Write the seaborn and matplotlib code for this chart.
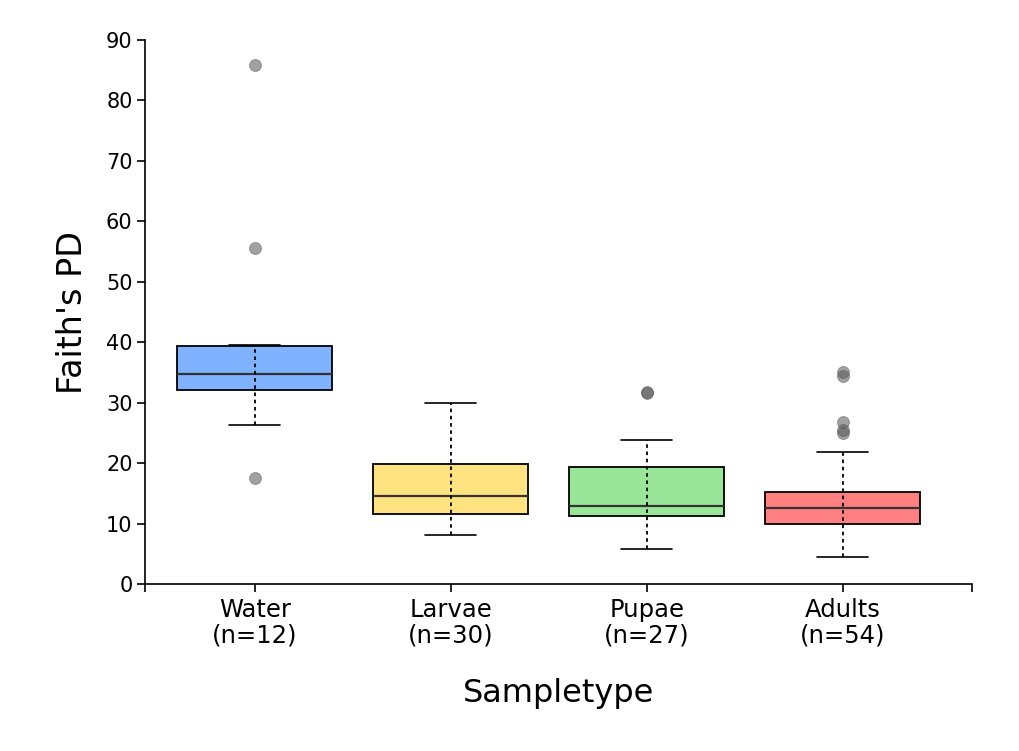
import numpy as np
import pandas as pd
import matplotlib
matplotlib.use("Agg")
import matplotlib.pyplot as plt
import seaborn as sns

# Box summary values
groups = ["Water", "Larvae", "Pupae", "Adults"]
counts = [12, 30, 27, 54]
whisker_low = [26.3, 8.1, 5.8, 4.5]
q1 = [32.1, 11.5, 11.3, 9.9]
median = [34.7, 14.6, 12.9, 12.6]
q3 = [39.4, 19.9, 19.3, 15.2]
whisker_high = [39.5, 30.0, 23.8, 21.9]
box_colors = ["#80B3FF", "#FFE380", "#99E699", "#FF8080"]

# outliers
outlier_group = ["Water", "Water", "Water", "Pupae", "Pupae",
                 "Adults", "Adults", "Adults", "Adults", "Adults"]
outlier_value = [85.9, 55.6, 17.5, 31.8, 31.6,
                 35.1, 34.4, 26.8, 25.4, 24.9]

sns.set_style("ticks")
plt.rcParams["font.family"] = ["DejaVu Sans"]
plt.rcParams["text.color"] = "black"
plt.rcParams["axes.labelcolor"] = "black"
plt.rcParams["xtick.color"] = "black"
plt.rcParams["ytick.color"] = "black"
plt.rcParams["axes.edgecolor"] = "black"

fig = plt.figure(figsize=(10.19, 7.51), dpi=100)
ax = fig.add_axes([145 / 1019, 1 - 584 / 751, (972 - 145) / 1019, (584 - 40) / 751])

stats = []
for i, g in enumerate(groups):
    stats.append(dict(label=g, whislo=whisker_low[i], q1=q1[i], med=median[i],
                      q3=q3[i], whishi=whisker_high[i], fliers=[]))

pos = np.arange(len(groups))
bp = ax.bxp(stats, positions=pos, widths=0.79, patch_artist=True,
            showfliers=False,
            boxprops=dict(edgecolor="black", linewidth=1.3),
            medianprops=dict(color="#333333", linewidth=1.6),
            capprops=dict(color="black", linewidth=1.2),
            capwidths=0.26)
for patch, c in zip(bp["boxes"], box_colors):
    patch.set_facecolor(c)
for w in bp["whiskers"]:
    w.set_visible(False)

# dotted whisker line runs through the box as well
ax.vlines(pos, whisker_low, whisker_high, colors="black", linewidth=1.3,
          linestyles=(0, (2, 2)), zorder=3)

fl = pd.DataFrame({"Sampletype": outlier_group, "value": outlier_value})
sns.stripplot(data=fl, x="Sampletype", y="value", order=groups, jitter=False,
              color="#555555", alpha=0.55, size=8.6, linewidth=0.6,
              edgecolor="#555555", ax=ax, zorder=4)

xmin, xmax = -0.56, 3.66
ax.set_xlim(xmin, xmax)
ax.set_ylim(0, 90)
ax.set_yticks(range(0, 91, 10))
ax.set_xticks(pos)
ax.set_xticklabels([f"{g}\n(n={n})" for g, n in zip(groups, counts)])
ax.set_xticks([xmin, xmax], minor=True)

for lab in ax.get_xticklabels():
    lab.set_fontsize(17.5)
    lab.set_linespacing(1.1)
ax.tick_params(axis="y", labelsize=15, length=6, width=1.2, pad=3)
ax.tick_params(axis="x", which="both", length=6, width=1.2, pad=4)

ax.set_xlabel("Sampletype", fontsize=23, labelpad=22)
ax.set_ylabel("Faith's PD", fontsize=24, labelpad=12)

sns.despine(ax=ax)
for s in ["left", "bottom"]:
    ax.spines[s].set_linewidth(1.2)

fig.savefig("out.png", dpi=100)
